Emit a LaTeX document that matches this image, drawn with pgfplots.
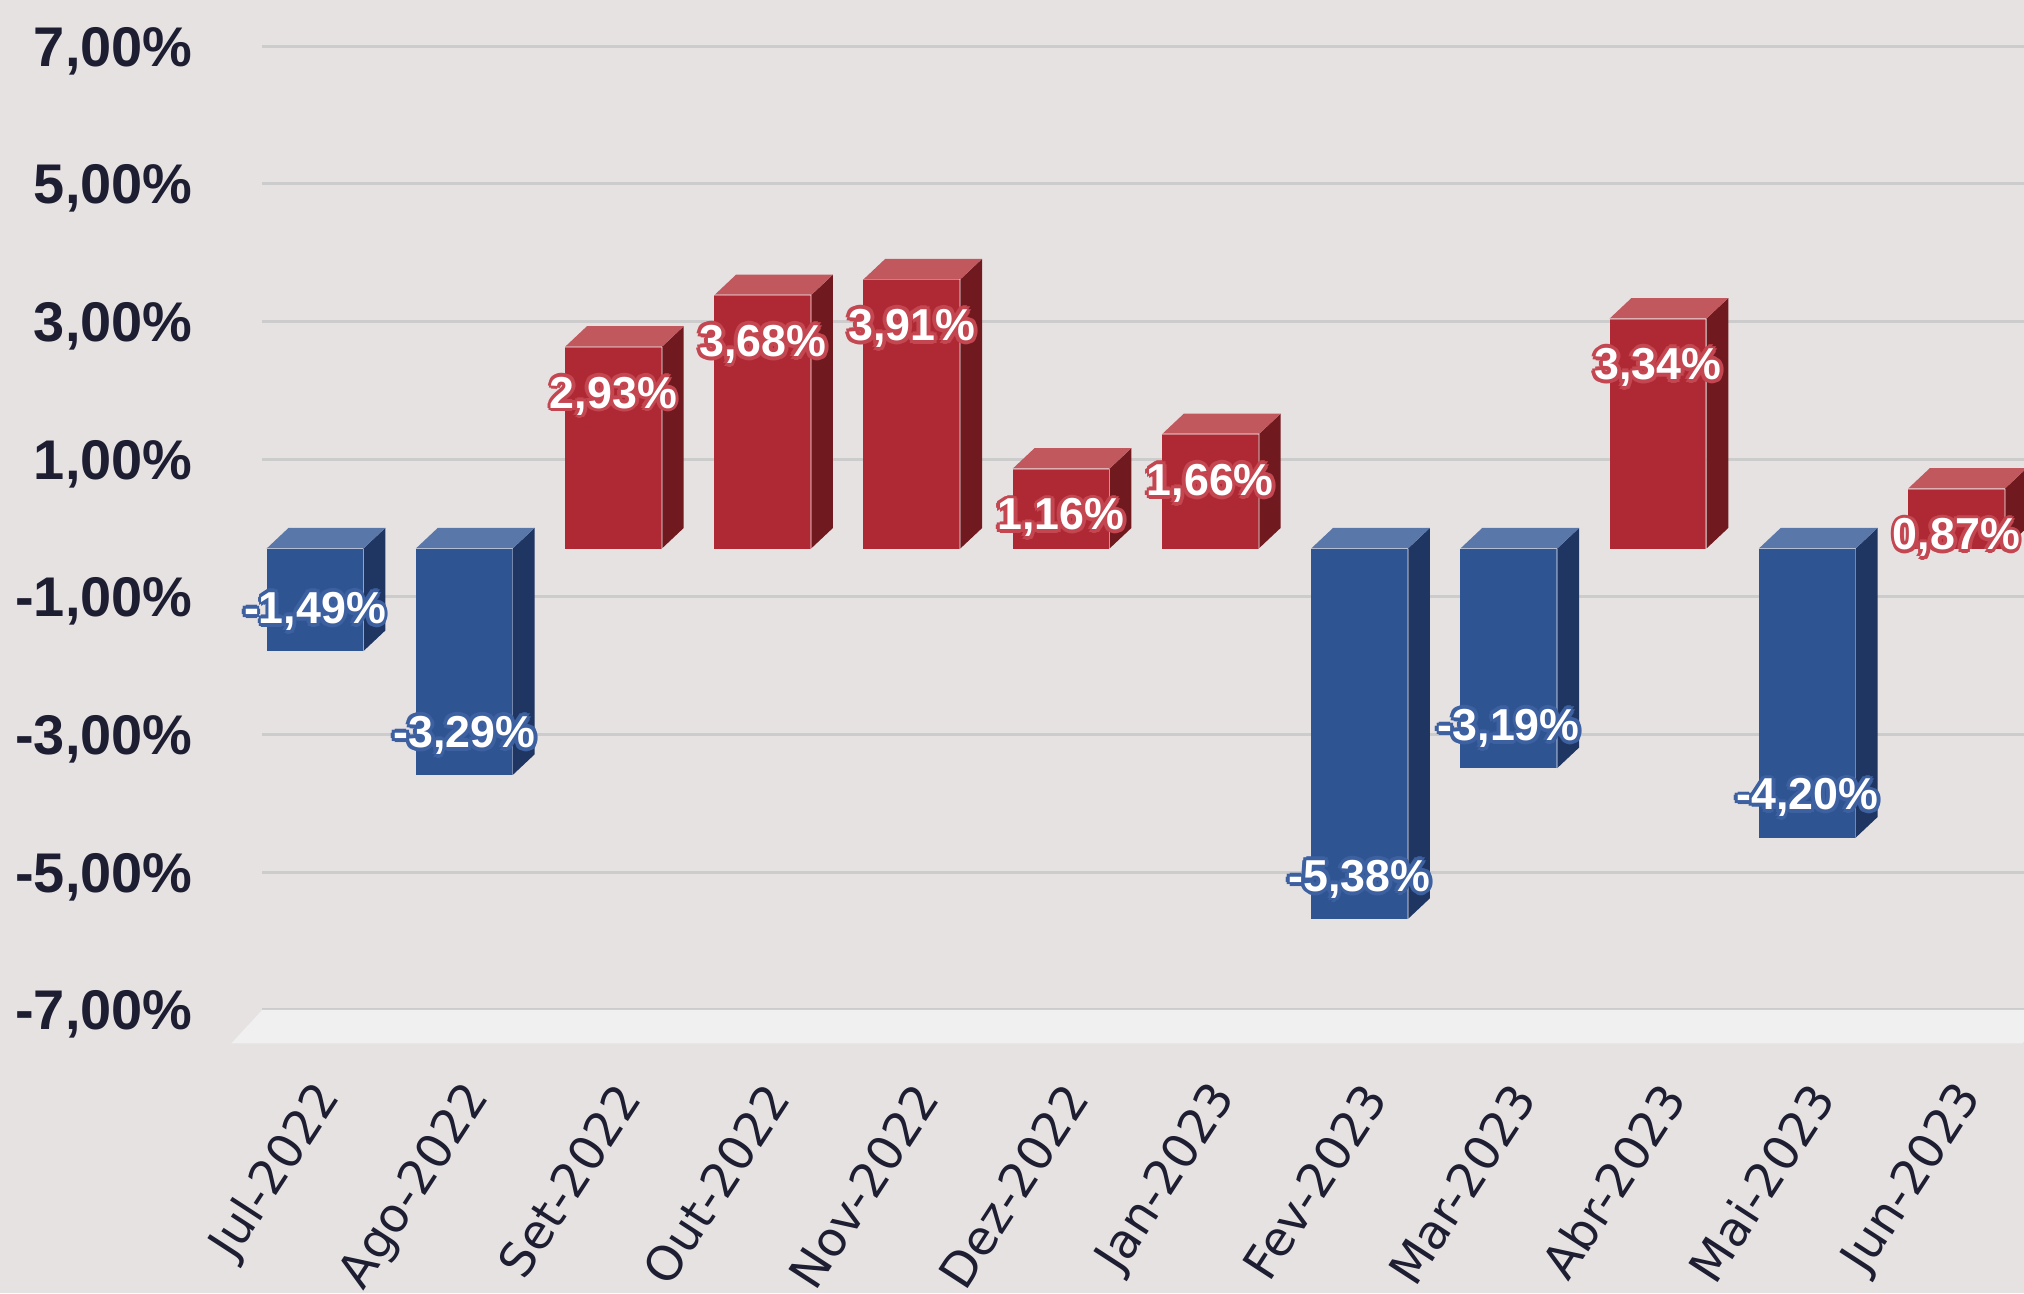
\documentclass[border=0pt]{standalone}
\usepackage{pgfplots}
\pgfplotsset{compat=1.18}
\usepackage{pgfplotstable}
\usepackage{fontspec}
\setmainfont{Liberation Sans}
\newfontfamily\dejavu{DejaVu Sans}
\definecolor{bgc}{RGB}{231,226,226}
\definecolor{gridc}{RGB}{204,204,204}
\definecolor{floorc}{RGB}{241,240,240}
\definecolor{tickc}{RGB}{30,30,50}
\definecolor{rfront}{RGB}{174,41,51}
\definecolor{rtop}{RGB}{192,88,94}
\definecolor{rside}{RGB}{112,26,32}
\definecolor{rhalo}{RGB}{196,70,80}
\definecolor{bfront}{RGB}{46,84,146}
\definecolor{btop}{RGB}{90,119,170}
\definecolor{bside}{RGB}{31,53,98}
\definecolor{bhalo}{RGB}{60,96,160}

\pgfdeclareplotmark{nothing}{}

\pgfplotstableread[row sep=\\]{
x v lab\\
0 -1.49 -1,49\\
1 -3.29 -3,29\\
2 2.93 2,93\\
3 3.68 3,68\\
4 3.91 3,91\\
5 1.16 1,16\\
6 1.66 1,66\\
7 -5.38 -5,38\\
8 -3.19 -3,19\\
9 3.34 3,34\\
10 -4.20 -4,20\\
11 0.87 0,87\\
}\datatable

% 3D bar drawn around the data point (back centre, value)
\newcommand\drawbar[1]{%
  \begingroup
  \edef\bv{#1}%
  \pgfkeys{/pgf/fpu=false}%
  \pgfmathsetmacro\hh{(\bv)*16}%
  \pgfmathsetmacro\yb{-(\hh)-4.8}%
  \pgfmathsetmacro\yc{-(\hh)}%
  \pgfmathsetmacro\tp{max(0,-(\hh))}%
  \pgfmathsetmacro\tf{\tp-4.8}%
  \ifdim \bv pt>0pt
    \def\cf{rfront}\def\ct{rtop}\def\cs{rside}%
  \else
    \def\cf{bfront}\def\ct{btop}\def\cs{bside}%
  \fi
  \fill[draw=none, fill=\cf] (-16.35pt,\yb pt) rectangle (6.15pt,-4.8pt);
  \fill[draw=none, fill=\cs] (6.15pt,-4.8pt) -- (11.25pt,0pt) -- (11.25pt,\yc pt) -- (6.15pt,\yb pt) -- cycle;
  \fill[draw=none, fill=\ct] (-16.35pt,\tf pt) -- (-11.25pt,\tp pt) -- (11.25pt,\tp pt) -- (6.15pt,\tf pt) -- cycle;
  \draw[fill=none, draw=white, draw opacity=0.35, line width=0.4pt] (-16.35pt,\tf pt) -- (6.15pt,\tf pt);
  \draw[fill=none, draw=white, draw opacity=0.35, line width=0.4pt] (6.15pt,\yb pt) -- (6.15pt,-4.8pt);
  \endgroup
}

\newcommand\halo[2]{%
  \def\hoff##1##2{\rlap{\hspace*{##1}\raisebox{##2}{\textcolor{#1}{#2}}}}%
  \hoff{0.9pt}{0pt}\hoff{-0.9pt}{0pt}\hoff{0pt}{0.9pt}\hoff{0pt}{-0.9pt}%
  \hoff{0.65pt}{0.65pt}\hoff{-0.65pt}{0.65pt}\hoff{0.65pt}{-0.65pt}\hoff{-0.65pt}{-0.65pt}%
  \textcolor{white}{#2}}

\begin{document}
\begin{tikzpicture}
\path[use as bounding box, fill=bgc] (-78.3pt,-177.9pt) rectangle (392.1pt,122.7pt);
\clip (-78.3pt,-177.9pt) rectangle (392.1pt,122.7pt);
\begin{axis}[
  x=34.68pt, y=16pt,
  at={(-17.34pt,-112pt)}, anchor=south west,
  xmin=-0.5, xmax=11.5, ymin=-7, ymax=7,
  clip=false,
  axis line style={draw=none},
  major tick style={draw=none},
  ymajorgrids=true,
  grid style={draw=gridc, line width=0.7pt},
  ytick={-7,-5,-3,-1,1,3,5,7},
  yticklabels={{-7,00\%},{-5,00\%},{-3,00\%},{-1,00\%},{1,00\%},{3,00\%},{5,00\%},{7,00\%}},
  yticklabel style={inner sep=0pt, anchor=base east, xshift=-16pt, yshift=-4.65pt,
    font=\bfseries\fontsize{13}{15}\selectfont, text=tickc},
  xtick={0,...,11},
  xticklabels={Jul-2022,Ago-2022,Set-2022,Out-2022,Nov-2022,Dez-2022,Jan-2023,Fev-2023,Mar-2023,Abr-2023,Mai-2023,Jun-2023},
  xticklabel style={inner sep=0pt, xshift=-1.5pt, yshift=-18.4pt, rotate=57, anchor=east,
    font=\dejavu\fontsize{11.1}{13}\selectfont, text=tickc},
]
\fill[floorc] (axis cs:-0.5,-7) -- (axis cs:11.5,-7) -- ([shift={(-7.2pt,-7.8pt)}]axis cs:11.5,-7) -- ([shift={(-7.2pt,-7.8pt)}]axis cs:-0.5,-7) -- cycle;

\addplot[scatter, only marks, mark=nothing,
  point meta=explicit symbolic,
  scatter/@pre marker code/.code={\drawbar{\pgfplotspointmeta}},
  scatter/@post marker code/.code={}]
  table[x=x, y=v, meta=v] {\datatable};

\addplot[only marks, mark=nothing, restrict y to domain=0:10,
  point meta=explicit symbolic,
  nodes near coords={\halo{rhalo}{\pgfplotspointmeta\%}},
  every node near coord/.append style={anchor=center, inner sep=0pt, xshift=-5.1pt, yshift=-16.2pt,
    font=\bfseries\fontsize{10.4}{12}\selectfont}]
  table[x=x, y=v, meta=lab] {\datatable};

\addplot[only marks, mark=nothing, restrict y to domain=-10:0,
  point meta=explicit symbolic,
  nodes near coords={\halo{bhalo}{\pgfplotspointmeta\%}},
  every node near coord/.append style={anchor=center, inner sep=0pt, xshift=-5.1pt, yshift=4.5pt,
    font=\bfseries\fontsize{10.4}{12}\selectfont}]
  table[x=x, y=v, meta=lab] {\datatable};
\end{axis}
\end{tikzpicture}
\end{document}
